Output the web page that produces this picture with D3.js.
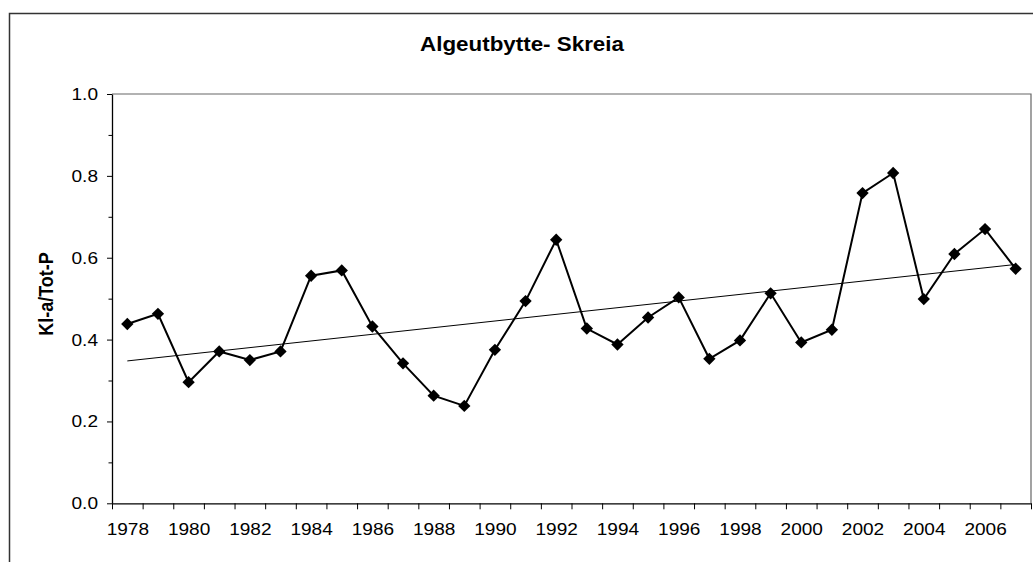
<!DOCTYPE html>
<html>
<head>
<meta charset="utf-8">
<script src="https://cdn.jsdelivr.net/npm/d3@7"></script>
<style>
  html, body { margin: 0; padding: 0; background: #fff; }
  svg { display: block; }
  text { font-family: "Liberation Sans", Arial, sans-serif; fill: #000; }
</style>
</head>
<body>
<svg id="chart" width="1033" height="562"></svg>
<script>
// ---- data ----
const years = [1978,1979,1980,1981,1982,1983,1984,1985,1986,1987,1988,1989,1990,1991,1992,
               1993,1994,1995,1996,1997,1998,1999,2000,2001,2002,2003,2004,2005,2006,2007];
const ratio = [0.438,0.463,0.296,0.371,0.350,0.371,0.556,0.569,0.432,0.342,0.263,0.238,0.375,0.494,0.644,
               0.427,0.388,0.454,0.503,0.353,0.398,0.513,0.393,0.424,0.758,0.807,0.499,0.609,0.670,0.573];
const xLabels = [1978,1980,1982,1984,1986,1988,1990,1992,1994,1996,1998,2000,2002,2004,2006];
const yTicks = [0.0,0.2,0.4,0.6,0.8,1.0];
const yMinor = [0.1,0.3,0.5,0.7,0.9];
const title = "Algeutbytte- Skreia";
const yTitle = "Kl-a/Tot-P";

// ---- layout ----
const svg = d3.select("#chart");
const L = 112, R = 1031, T = 94, B = 503.3;
const STRETCH = 1.12;

function stretch(sel, f) {
  sel.each(function () {
    const w = this.getComputedTextLength();
    this.setAttribute("textLength", w * f);
    this.setAttribute("lengthAdjust", "spacingAndGlyphs");
  });
}

const x = d3.scaleLinear().domain([years[0] - 0.5, years[years.length - 1] + 0.5]).range([L, R]);
const y = d3.scaleLinear().domain([0, 1]).range([B, T]);

// outer chart border
svg.append("rect")
  .attr("x", 9.5).attr("y", 13.5).attr("width", 1040).attr("height", 570)
  .attr("fill", "none").attr("stroke", "#333").attr("stroke-width", 1.5);

// plot area border (top & right)
svg.append("path")
  .attr("d", `M${L},${T}H${R}V${B}`)
  .attr("fill", "none").attr("stroke", "#666").attr("stroke-width", 1.2);

// title
svg.append("text")
  .attr("x", 522).attr("y", 51)
  .attr("text-anchor", "middle")
  .attr("font-weight", "bold").attr("font-size", 19.5)
  .text(title)
  .each(function () {
    this.setAttribute("textLength", 204);
    this.setAttribute("lengthAdjust", "spacingAndGlyphs");
  });

// y title
svg.append("text")
  .attr("transform", "translate(52.5,294) scale(1.15,1) rotate(-90)")
  .attr("text-anchor", "middle")
  .attr("font-weight", "bold").attr("font-size", 18)
  .text(yTitle);

// y axis minor
svg.append("g").attr("transform", `translate(${L},0)`)
  .call(d3.axisLeft(y).tickValues(yMinor).tickSize(3.5).tickFormat(""))
  .call(g => g.select(".domain").remove())
  .selectAll("line").attr("stroke", "#000");

// y axis major
const gy = svg.append("g").attr("transform", `translate(${L},0)`)
  .call(d3.axisLeft(y).tickValues(yTicks).tickSize(5).tickSizeOuter(0).tickPadding(9).tickFormat(d3.format(".1f")));
gy.select(".domain").attr("stroke", "#000").attr("stroke-width", 1.3);
gy.selectAll("text").attr("font-size", 17).attr("font-family", "Liberation Sans, Arial, sans-serif").call(stretch, STRETCH);

// x axis ticks at category boundaries
const bounds = years.map(v => v - 0.5).concat([years[years.length - 1] + 0.5]);
const gx = svg.append("g").attr("transform", `translate(0,${B})`)
  .call(d3.axisBottom(x).tickValues(bounds).tickSize(6).tickSizeOuter(0).tickFormat(""));
gx.select(".domain").attr("stroke", "#000").attr("stroke-width", 1.3);

// x labels
const gxl = svg.append("g").attr("transform", `translate(0,${B})`)
  .call(d3.axisBottom(x).tickValues(xLabels).tickSize(0).tickPadding(20).tickFormat(d3.format("d")));
gxl.select(".domain").remove();
gxl.selectAll("text").attr("font-size", 17).attr("font-family", "Liberation Sans, Arial, sans-serif").call(stretch, STRETCH);

// trend line (least squares)
const n = years.length;
const mx = d3.mean(years), my = d3.mean(ratio);
const slope = d3.sum(years, (v, i) => (v - mx) * (ratio[i] - my)) / d3.sum(years, v => (v - mx) * (v - mx));
const icpt = my - slope * mx;
const trend = [years[0], years[n - 1]].map(v => [v, icpt + slope * v]);
svg.append("path")
  .attr("d", d3.line().x(d => x(d[0])).y(d => y(d[1]))(trend))
  .attr("fill", "none").attr("stroke", "#000").attr("stroke-width", 1);

// data line
const pts = years.map((v, i) => [v, ratio[i]]);
svg.append("path")
  .attr("d", d3.line().x(d => x(d[0])).y(d => y(d[1]))(pts))
  .attr("fill", "none").attr("stroke", "#000").attr("stroke-width", 2);

// markers
svg.append("g").selectAll("path").data(pts).join("path")
  .attr("transform", d => `translate(${x(d[0])},${y(d[1])}) rotate(45)`)
  .attr("d", d3.symbol(d3.symbolSquare, 76)())
  .attr("fill", "#000");
</script>
</body>
</html>
